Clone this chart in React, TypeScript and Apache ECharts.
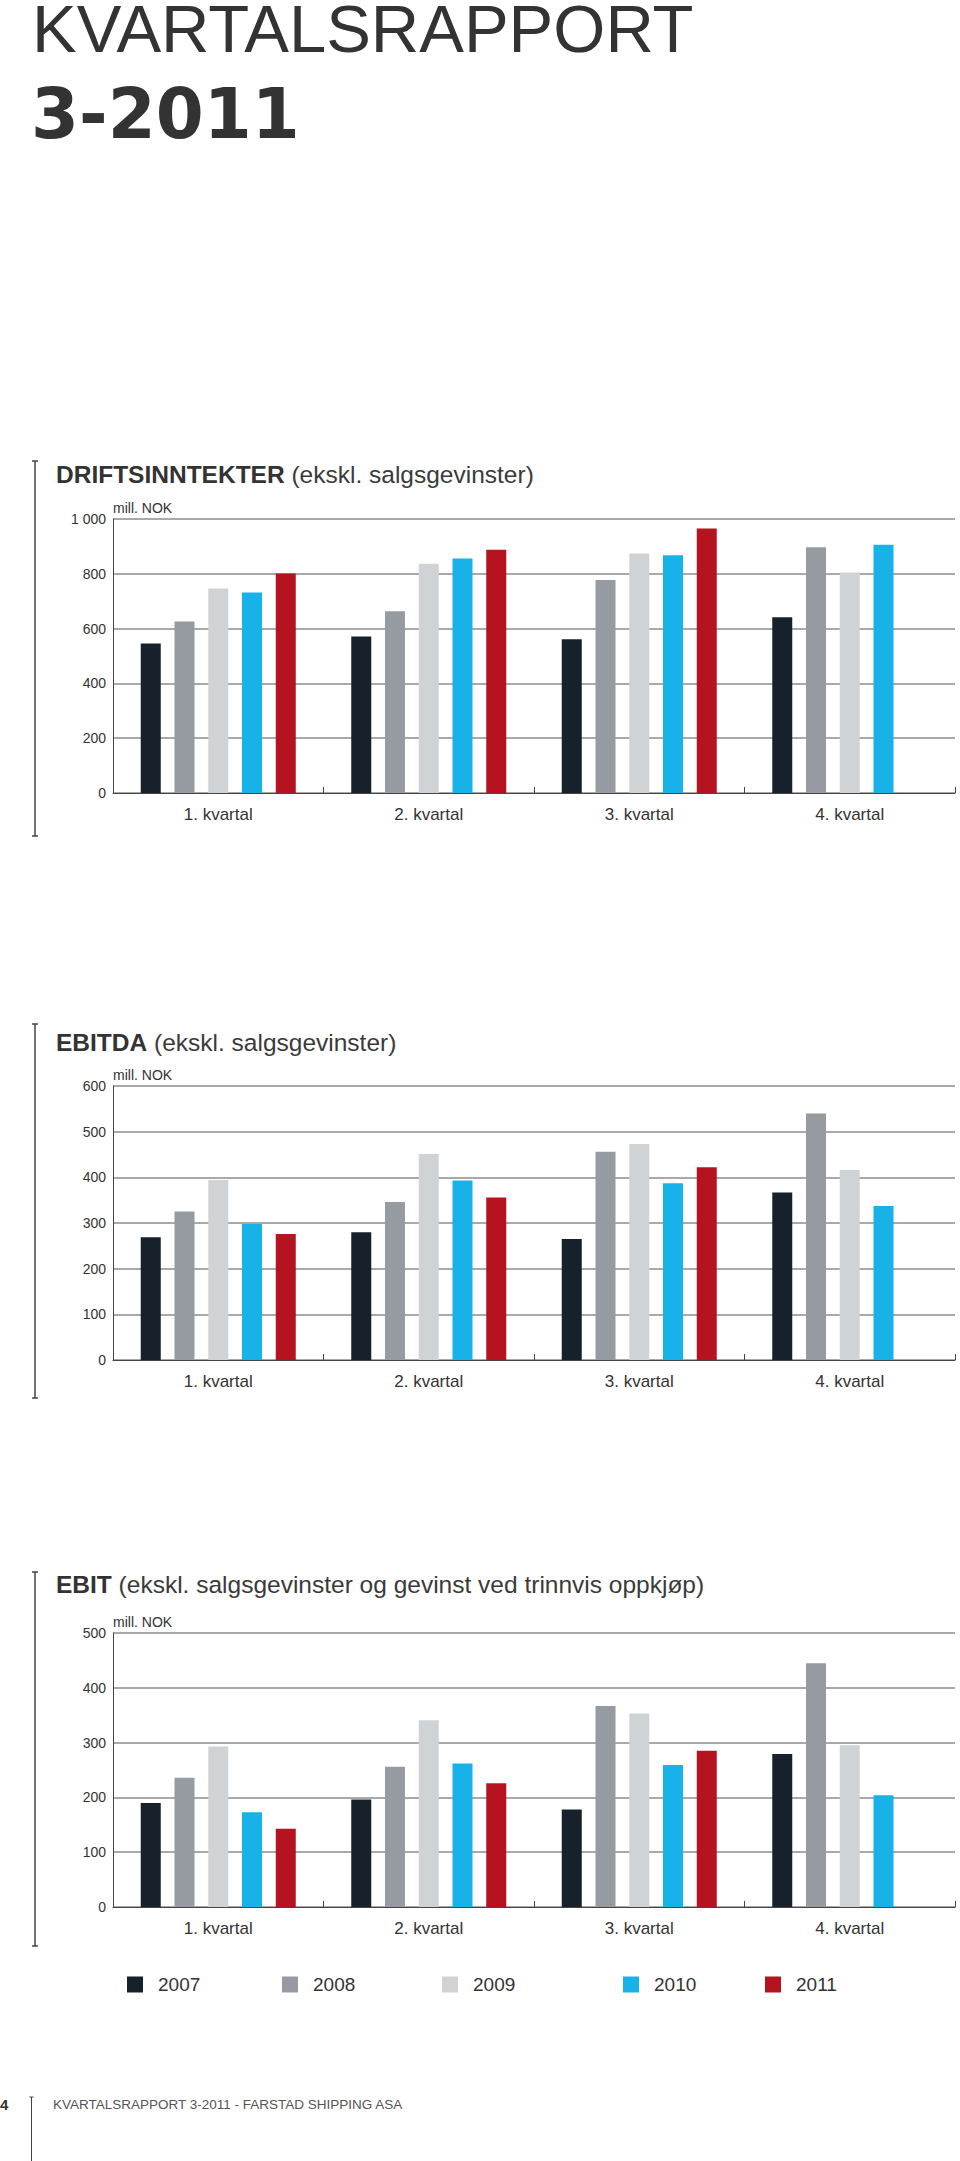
import React, { useEffect, useRef } from "react";
import * as echarts from "echarts";

const quarters = ["1. kvartal", "2. kvartal", "3. kvartal", "4. kvartal"];
const years = ["2007", "2008", "2009", "2010", "2011"];
const yearColors = ["#16212b", "#969ba1", "#d0d3d6", "#17b2e7", "#b4131f"];

// Driftsinntekter (mill. NOK)
const drift2007 = [546, 571, 561, 641];
const drift2008 = [626, 663, 777, 897];
const drift2009 = [746, 837, 874, 805];
const drift2010 = [732, 856, 868, 906];
const drift2011 = [801, 888, 965, null];

// EBITDA (mill. NOK)
const ebitda2007 = [269, 280, 265, 367];
const ebitda2008 = [325, 346, 456, 540];
const ebitda2009 = [394, 451, 473, 416];
const ebitda2010 = [298, 393, 387, 337];
const ebitda2011 = [276, 356, 422, null];

// EBIT (mill. NOK)
const ebit2007 = [190, 196, 178, 279];
const ebit2008 = [236, 256, 367, 445];
const ebit2009 = [293, 341, 353, 295];
const ebit2010 = [173, 262, 259, 204];
const ebit2011 = [143, 226, 285, null];

const driftSeries = [drift2007, drift2008, drift2009, drift2010, drift2011];
const ebitdaSeries = [ebitda2007, ebitda2008, ebitda2009, ebitda2010, ebitda2011];
const ebitSeries = [ebit2007, ebit2008, ebit2009, ebit2010, ebit2011];

const yMax = [1000, 600, 500];
const yInterval = [200, 100, 100];

const FONT = "'Liberation Sans', Arial, sans-serif";
const TXT = "#333333";
const AXIS = "#454545";
const GRIDC = "#8c8c8c";

export default function App() {
  const ref = useRef<HTMLDivElement>(null);

  useEffect(() => {
    if (!ref.current) return;
    const chart = echarts.init(ref.current, undefined, { renderer: "svg" });

    const gridTops = [519, 1086, 1633];
    const gridH = 274;

    const grids = gridTops.map((t) => ({ left: 113, right: 5, top: t, height: gridH }));

    const xAxes = gridTops.map((_, i) => ({
      type: "category",
      gridIndex: i,
      data: quarters,
      axisLine: { show: true, lineStyle: { color: AXIS, width: 1 } },
      axisTick: { show: true, inside: true, length: 6, lineStyle: { color: AXIS, width: 1 } },
      axisLabel: { fontSize: 17, color: TXT, fontFamily: FONT, margin: 13 },
    }));

    const yAxes = gridTops.map((_, i) => ({
      type: "value",
      gridIndex: i,
      min: 0,
      max: yMax[i],
      interval: yInterval[i],
      name: "mill. NOK",
      nameLocation: "end",
      nameGap: 4,
      nameTextStyle: {
        align: "left",
        verticalAlign: "bottom",
        fontSize: 14,
        color: TXT,
        fontFamily: FONT,
      },
      axisLine: { show: true, lineStyle: { color: AXIS, width: 1 } },
      axisTick: { show: false },
      axisLabel: {
        fontSize: 14,
        color: TXT,
        fontFamily: FONT,
        margin: 7,
        formatter: (v: number) => (v >= 1000 ? String(v).replace(/(\d)(\d{3})$/, "$1 $2") : String(v)),
      },
      splitLine: { show: true, lineStyle: { color: GRIDC, width: 1.5 } },
    }));

    const allSets = [driftSeries, ebitdaSeries, ebitSeries];
    const series: any[] = [];
    allSets.forEach((set, gi) => {
      set.forEach((data, yi) => {
        series.push({
          type: "bar",
          name: years[yi],
          xAxisIndex: gi,
          yAxisIndex: gi,
          data,
          barWidth: 20,
          barGap: "68.75%",
          itemStyle: { color: yearColors[yi] },
        });
      });
    });

    const legendX = [127, 282, 442, 623, 765];
    const legends = years.map((y, i) => ({
      data: [y],
      left: legendX[i],
      top: 1975,
      padding: 0,
      itemWidth: 16,
      itemHeight: 16,
      icon: "rect",
      selectedMode: false,
      textStyle: { fontSize: 19, color: TXT, fontFamily: FONT, padding: [0, 0, 0, 10] },
    }));

    const titleRich = {
      b: { fontSize: 24.5, fontWeight: "bold", fill: "#333", fontFamily: FONT },
      n: { fontSize: 24.5, fontWeight: "normal", fill: "#3a3a3a", fontFamily: FONT },
    };

    const bracket = (y1: number, y2: number, x = 35) => [
      { type: "line", shape: { x1: x, y1, x2: x, y2 }, style: { stroke: AXIS, lineWidth: 1.5 } },
      { type: "line", shape: { x1: x - 3, y1, x2: x + 3, y2: y1 }, style: { stroke: AXIS, lineWidth: 1.5 } },
      { type: "line", shape: { x1: x - 3, y1: y2, x2: x + 3, y2 }, style: { stroke: AXIS, lineWidth: 1.5 } },
    ];

    const sectionTitle = (bold: string, rest: string, y: number) => ({
      type: "text",
      x: 56,
      y,
      style: {
        text: `{b|${bold}} {n|${rest}}`,
        rich: titleRich,
        fontSize: 24.5,
        fontFamily: FONT,
        verticalAlign: "middle",
        align: "left",
      },
    });

    const graphic: any[] = [
      {
        type: "text",
        x: 32,
        y: 28,
        style: {
          text: "KVARTALSRAPPORT",
          fontSize: 67,
          lineHeight: 56,
          fontFamily: FONT,
          fill: "#333",
          verticalAlign: "middle",
        },
      },
      {
        type: "text",
        x: 31,
        y: 114,
        style: {
          text: "3-2011",
          fontSize: 69,
          fontWeight: "bold",
          fontFamily: "'DejaVu Sans', sans-serif",
          fill: "#333",
          verticalAlign: "middle",
        },
      },
      ...bracket(461, 836),
      ...bracket(1024, 1398),
      ...bracket(1572, 1946),
      sectionTitle("DRIFTSINNTEKTER", "(ekskl. salgsgevinster)", 474),
      sectionTitle("EBITDA", "(ekskl. salgsgevinster)", 1042),
      sectionTitle("EBIT", "(ekskl. salgsgevinster og gevinst ved trinnvis oppkjøp)", 1584),
      {
        type: "text",
        x: 0,
        y: 2104,
        style: { text: "4", fontSize: 15, fontWeight: "bold", fontFamily: FONT, fill: "#333", verticalAlign: "middle" },
      },
      { type: "line", shape: { x1: 31.5, y1: 2097, x2: 31.5, y2: 2161 }, style: { stroke: AXIS, lineWidth: 1 } },
      { type: "line", shape: { x1: 29.5, y1: 2097, x2: 33.5, y2: 2097 }, style: { stroke: AXIS, lineWidth: 1 } },
      {
        type: "text",
        x: 53,
        y: 2104.5,
        style: {
          text: "KVARTALSRAPPORT 3-2011 - FARSTAD SHIPPING ASA",
          fontSize: 13.5,
          fontFamily: FONT,
          fill: "#555",
          verticalAlign: "middle",
        },
      },
    ];

    chart.setOption({
      animation: false,
      backgroundColor: "#ffffff",
      grid: grids,
      xAxis: xAxes,
      yAxis: yAxes,
      legend: legends,
      series,
      graphic,
    });

    return () => chart.dispose();
  }, []);

  return (
    <div
      ref={ref}
      style={{ position: "absolute", left: 0, top: 0, width: 960, height: 2161, background: "#fff" }}
    />
  );
}
